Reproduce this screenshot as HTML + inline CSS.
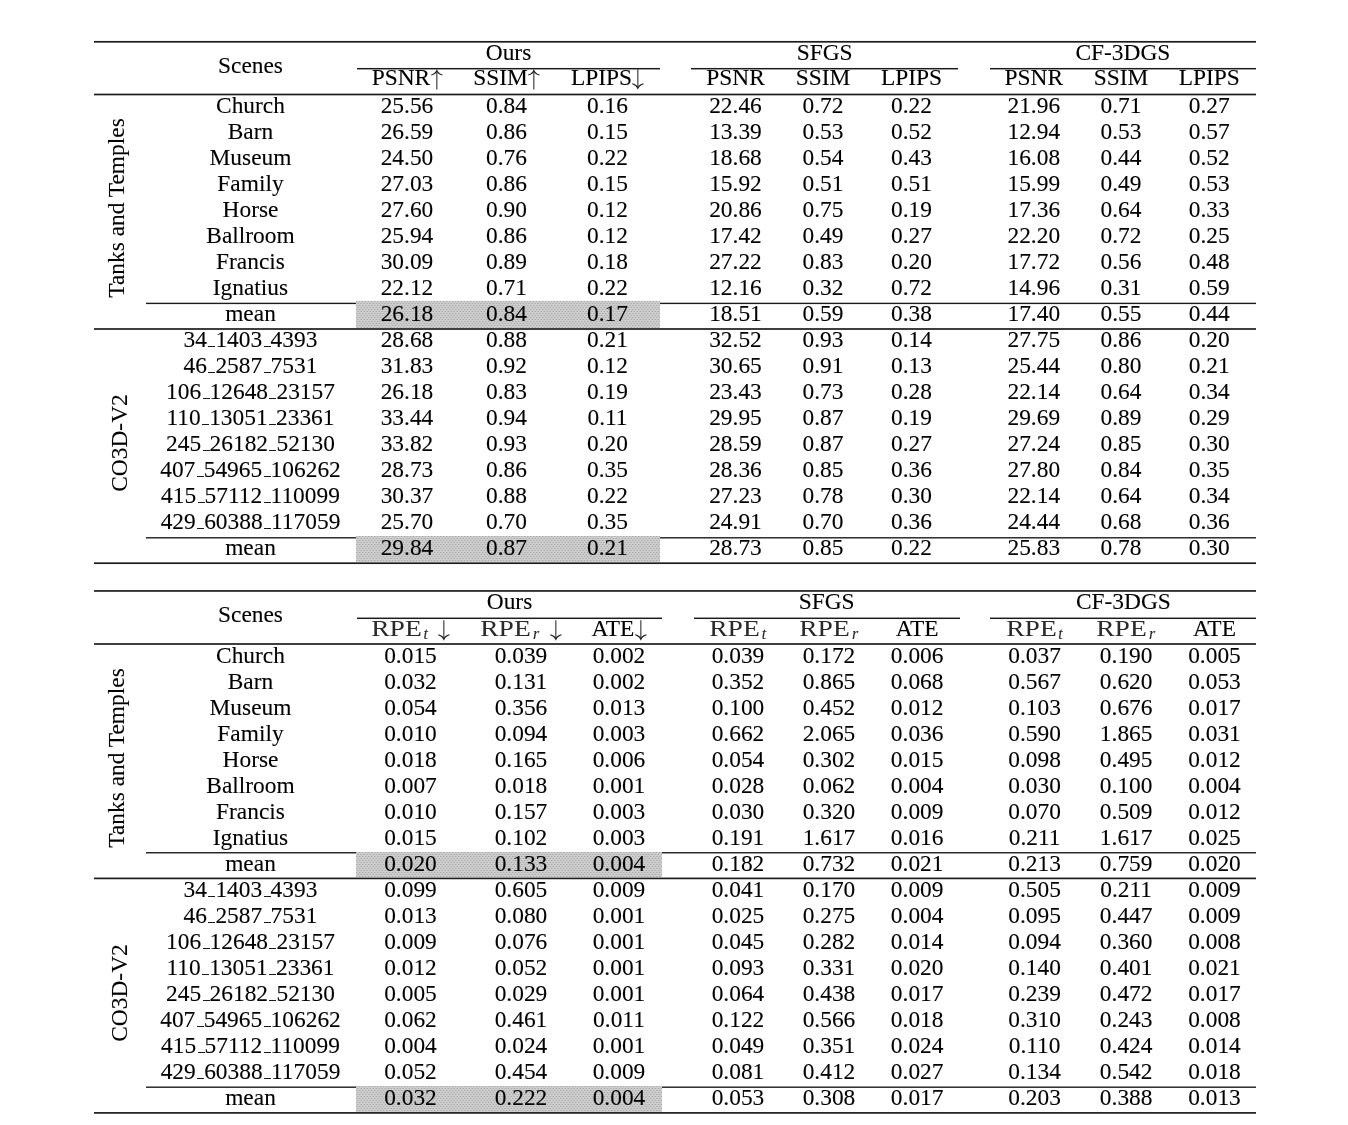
<!DOCTYPE html>
<html><head><meta charset="utf-8"><title>tables</title><style>
html,body{margin:0;padding:0;background:#fff;}
body{filter:grayscale(1) blur(0.45px);}
body{width:1348px;height:1125px;position:relative;overflow:hidden;font-family:"Liberation Serif",serif;color:#000;-webkit-text-stroke:0.1px #000;}
.t{position:absolute;text-align:center;white-space:nowrap;font-size:23.4px;line-height:26px;height:26px;}
.l{position:absolute;}
.g{background-color:#cdcdcd;background-image:radial-gradient(circle at 0.75px 0.5px,rgba(0,0,0,0.16) 0.45px,rgba(0,0,0,0) 0.95px),radial-gradient(circle at 2.25px 2.5px,rgba(0,0,0,0.16) 0.45px,rgba(0,0,0,0) 0.95px);background-size:3px 4px;}
.us{display:inline-block;width:0.3em;margin-left:0.06em;height:0;border-bottom:1.6px solid #1a1a1a;vertical-align:baseline;}
.arw{display:inline-block;width:0.5em;height:0.888em;vertical-align:-0.215em;margin-left:0.02em;overflow:visible;}
.arw .sh{fill:none;stroke:#2a2a2a;stroke-width:46;stroke-linecap:butt;}
.arw .hd{fill:#222;stroke:none;}
.rpe{display:inline-block;width:2.18em;height:1em;vertical-align:-0.22em;overflow:visible;}
.rpe text{font-family:"Liberation Serif",serif;fill:#2a2a2a;}
.st{display:inline-block;width:0;height:21px;vertical-align:baseline;}
.sp{display:inline-block;width:0.41em;}
.sub{font-style:italic;font-size:0.68em;line-height:0;position:relative;top:0.16em;color:#2a2a2a;margin-left:0.1em;margin-right:0.04em;}
.rot{position:absolute;white-space:nowrap;font-size:23.4px;line-height:26px;height:26px;width:400px;text-align:center;margin-left:-200px;margin-top:-13.0px;transform:rotate(-90deg);transform-origin:50% 50%;}
</style></head><body>
<div class="l" style="left:146px;top:302px;width:1110px;height:1px;background:rgb(187,187,187)"></div>
<div class="l" style="left:146px;top:303px;width:1110px;height:1px;background:rgb(28,28,28)"></div>
<div class="l" style="left:146px;top:304px;width:1110px;height:1px;background:rgb(232,232,232)"></div>
<div class="l" style="left:146px;top:537px;width:1110px;height:1px;background:rgb(51,51,51)"></div>
<div class="l" style="left:146px;top:538px;width:1110px;height:1px;background:rgb(142,142,142)"></div>
<div class="l g" style="left:356.30px;top:301.30px;width:303.70px;height:27.10px"></div>
<div class="l g" style="left:356.30px;top:535.80px;width:303.70px;height:26.80px"></div>
<div class="l" style="left:94px;top:40px;width:1162px;height:1px;background:rgb(244,244,244)"></div>
<div class="l" style="left:94px;top:41px;width:1162px;height:1px;background:rgb(28,28,28)"></div>
<div class="l" style="left:94px;top:42px;width:1162px;height:1px;background:rgb(107,107,107)"></div>
<div class="l" style="left:94px;top:93px;width:1162px;height:1px;background:rgb(176,176,176)"></div>
<div class="l" style="left:94px;top:94px;width:1162px;height:1px;background:rgb(28,28,28)"></div>
<div class="l" style="left:94px;top:95px;width:1162px;height:1px;background:rgb(176,176,176)"></div>
<div class="l" style="left:94px;top:328px;width:1162px;height:1px;background:rgb(62,62,62)"></div>
<div class="l" style="left:94px;top:329px;width:1162px;height:1px;background:rgb(62,62,62)"></div>
<div class="l" style="left:94px;top:562px;width:1162px;height:1px;background:rgb(107,107,107)"></div>
<div class="l" style="left:94px;top:563px;width:1162px;height:1px;background:rgb(28,28,28)"></div>
<div class="l" style="left:94px;top:564px;width:1162px;height:1px;background:rgb(244,244,244)"></div>
<div class="l" style="left:357px;top:67px;width:303px;height:1px;background:rgb(244,244,244)"></div>
<div class="l" style="left:357px;top:68px;width:303px;height:1px;background:rgb(28,28,28)"></div>
<div class="l" style="left:357px;top:69px;width:303px;height:1px;background:rgb(153,153,153)"></div>
<div class="t " style="left:388.50px;top:39.00px;width:240px;">Ours</div>
<div class="l" style="left:691px;top:67px;width:267px;height:1px;background:rgb(244,244,244)"></div>
<div class="l" style="left:691px;top:68px;width:267px;height:1px;background:rgb(28,28,28)"></div>
<div class="l" style="left:691px;top:69px;width:267px;height:1px;background:rgb(153,153,153)"></div>
<div class="t " style="left:704.62px;top:39.00px;width:240px;">SFGS</div>
<div class="l" style="left:990px;top:67px;width:266px;height:1px;background:rgb(244,244,244)"></div>
<div class="l" style="left:990px;top:68px;width:266px;height:1px;background:rgb(28,28,28)"></div>
<div class="l" style="left:990px;top:69px;width:266px;height:1px;background:rgb(153,153,153)"></div>
<div class="t " style="left:1002.88px;top:39.00px;width:240px;">CF-3DGS</div>
<div class="t " style="left:130.50px;top:52.00px;width:240px;">Scenes</div>
<div class="t " style="left:287.00px;top:64.00px;width:240px;">PSNR<svg class="arw" viewBox="0 0 500 888"><path class="sh" d="M250 880V60" /><path class="hd" d="M250 0C232 95 135 205 8 240L8 275C105 250 205 195 250 125C295 195 395 250 492 275L492 240C365 205 268 95 250 0Z" /></svg></div>
<div class="t " style="left:386.50px;top:64.00px;width:240px;">SSIM<svg class="arw" viewBox="0 0 500 888"><path class="sh" d="M250 880V60" /><path class="hd" d="M250 0C232 95 135 205 8 240L8 275C105 250 205 195 250 125C295 195 395 250 492 275L492 240C365 205 268 95 250 0Z" /></svg></div>
<div class="t " style="left:487.50px;top:64.00px;width:240px;">LPIPS<svg class="arw" viewBox="0 0 500 888"><path class="sh" d="M250 8V828" /><path class="hd" d="M250 888C232 793 135 683 8 648L8 613C105 638 205 693 250 763C295 693 395 638 492 613L492 648C365 683 268 793 250 888Z" /></svg></div>
<div class="t " style="left:615.50px;top:64.00px;width:240px;">PSNR</div>
<div class="t " style="left:703.00px;top:64.00px;width:240px;">SSIM</div>
<div class="t " style="left:791.50px;top:64.00px;width:240px;">LPIPS</div>
<div class="t " style="left:913.80px;top:64.00px;width:240px;">PSNR</div>
<div class="t " style="left:1001.00px;top:64.00px;width:240px;">SSIM</div>
<div class="t " style="left:1089.30px;top:64.00px;width:240px;">LPIPS</div>
<div class="t " style="left:130.50px;top:92.00px;width:240px;">Church</div>
<div class="t " style="left:287.00px;top:92.00px;width:240px;">25.56</div>
<div class="t " style="left:386.50px;top:92.00px;width:240px;">0.84</div>
<div class="t " style="left:487.50px;top:92.00px;width:240px;">0.16</div>
<div class="t " style="left:615.50px;top:92.00px;width:240px;">22.46</div>
<div class="t " style="left:703.00px;top:92.00px;width:240px;">0.72</div>
<div class="t " style="left:791.50px;top:92.00px;width:240px;">0.22</div>
<div class="t " style="left:913.80px;top:92.00px;width:240px;">21.96</div>
<div class="t " style="left:1001.00px;top:92.00px;width:240px;">0.71</div>
<div class="t " style="left:1089.30px;top:92.00px;width:240px;">0.27</div>
<div class="t " style="left:130.50px;top:118.00px;width:240px;">Barn</div>
<div class="t " style="left:287.00px;top:118.00px;width:240px;">26.59</div>
<div class="t " style="left:386.50px;top:118.00px;width:240px;">0.86</div>
<div class="t " style="left:487.50px;top:118.00px;width:240px;">0.15</div>
<div class="t " style="left:615.50px;top:118.00px;width:240px;">13.39</div>
<div class="t " style="left:703.00px;top:118.00px;width:240px;">0.53</div>
<div class="t " style="left:791.50px;top:118.00px;width:240px;">0.52</div>
<div class="t " style="left:913.80px;top:118.00px;width:240px;">12.94</div>
<div class="t " style="left:1001.00px;top:118.00px;width:240px;">0.53</div>
<div class="t " style="left:1089.30px;top:118.00px;width:240px;">0.57</div>
<div class="t " style="left:130.50px;top:144.00px;width:240px;">Museum</div>
<div class="t " style="left:287.00px;top:144.00px;width:240px;">24.50</div>
<div class="t " style="left:386.50px;top:144.00px;width:240px;">0.76</div>
<div class="t " style="left:487.50px;top:144.00px;width:240px;">0.22</div>
<div class="t " style="left:615.50px;top:144.00px;width:240px;">18.68</div>
<div class="t " style="left:703.00px;top:144.00px;width:240px;">0.54</div>
<div class="t " style="left:791.50px;top:144.00px;width:240px;">0.43</div>
<div class="t " style="left:913.80px;top:144.00px;width:240px;">16.08</div>
<div class="t " style="left:1001.00px;top:144.00px;width:240px;">0.44</div>
<div class="t " style="left:1089.30px;top:144.00px;width:240px;">0.52</div>
<div class="t " style="left:130.50px;top:170.00px;width:240px;">Family</div>
<div class="t " style="left:287.00px;top:170.00px;width:240px;">27.03</div>
<div class="t " style="left:386.50px;top:170.00px;width:240px;">0.86</div>
<div class="t " style="left:487.50px;top:170.00px;width:240px;">0.15</div>
<div class="t " style="left:615.50px;top:170.00px;width:240px;">15.92</div>
<div class="t " style="left:703.00px;top:170.00px;width:240px;">0.51</div>
<div class="t " style="left:791.50px;top:170.00px;width:240px;">0.51</div>
<div class="t " style="left:913.80px;top:170.00px;width:240px;">15.99</div>
<div class="t " style="left:1001.00px;top:170.00px;width:240px;">0.49</div>
<div class="t " style="left:1089.30px;top:170.00px;width:240px;">0.53</div>
<div class="t " style="left:130.50px;top:196.00px;width:240px;">Horse</div>
<div class="t " style="left:287.00px;top:196.00px;width:240px;">27.60</div>
<div class="t " style="left:386.50px;top:196.00px;width:240px;">0.90</div>
<div class="t " style="left:487.50px;top:196.00px;width:240px;">0.12</div>
<div class="t " style="left:615.50px;top:196.00px;width:240px;">20.86</div>
<div class="t " style="left:703.00px;top:196.00px;width:240px;">0.75</div>
<div class="t " style="left:791.50px;top:196.00px;width:240px;">0.19</div>
<div class="t " style="left:913.80px;top:196.00px;width:240px;">17.36</div>
<div class="t " style="left:1001.00px;top:196.00px;width:240px;">0.64</div>
<div class="t " style="left:1089.30px;top:196.00px;width:240px;">0.33</div>
<div class="t " style="left:130.50px;top:222.00px;width:240px;">Ballroom</div>
<div class="t " style="left:287.00px;top:222.00px;width:240px;">25.94</div>
<div class="t " style="left:386.50px;top:222.00px;width:240px;">0.86</div>
<div class="t " style="left:487.50px;top:222.00px;width:240px;">0.12</div>
<div class="t " style="left:615.50px;top:222.00px;width:240px;">17.42</div>
<div class="t " style="left:703.00px;top:222.00px;width:240px;">0.49</div>
<div class="t " style="left:791.50px;top:222.00px;width:240px;">0.27</div>
<div class="t " style="left:913.80px;top:222.00px;width:240px;">22.20</div>
<div class="t " style="left:1001.00px;top:222.00px;width:240px;">0.72</div>
<div class="t " style="left:1089.30px;top:222.00px;width:240px;">0.25</div>
<div class="t " style="left:130.50px;top:248.00px;width:240px;">Francis</div>
<div class="t " style="left:287.00px;top:248.00px;width:240px;">30.09</div>
<div class="t " style="left:386.50px;top:248.00px;width:240px;">0.89</div>
<div class="t " style="left:487.50px;top:248.00px;width:240px;">0.18</div>
<div class="t " style="left:615.50px;top:248.00px;width:240px;">27.22</div>
<div class="t " style="left:703.00px;top:248.00px;width:240px;">0.83</div>
<div class="t " style="left:791.50px;top:248.00px;width:240px;">0.20</div>
<div class="t " style="left:913.80px;top:248.00px;width:240px;">17.72</div>
<div class="t " style="left:1001.00px;top:248.00px;width:240px;">0.56</div>
<div class="t " style="left:1089.30px;top:248.00px;width:240px;">0.48</div>
<div class="t " style="left:130.50px;top:274.00px;width:240px;">Ignatius</div>
<div class="t " style="left:287.00px;top:274.00px;width:240px;">22.12</div>
<div class="t " style="left:386.50px;top:274.00px;width:240px;">0.71</div>
<div class="t " style="left:487.50px;top:274.00px;width:240px;">0.22</div>
<div class="t " style="left:615.50px;top:274.00px;width:240px;">12.16</div>
<div class="t " style="left:703.00px;top:274.00px;width:240px;">0.32</div>
<div class="t " style="left:791.50px;top:274.00px;width:240px;">0.72</div>
<div class="t " style="left:913.80px;top:274.00px;width:240px;">14.96</div>
<div class="t " style="left:1001.00px;top:274.00px;width:240px;">0.31</div>
<div class="t " style="left:1089.30px;top:274.00px;width:240px;">0.59</div>
<div class="t " style="left:130.50px;top:300.00px;width:240px;">mean</div>
<div class="t " style="left:287.00px;top:300.00px;width:240px;">26.18</div>
<div class="t " style="left:386.50px;top:300.00px;width:240px;">0.84</div>
<div class="t " style="left:487.50px;top:300.00px;width:240px;">0.17</div>
<div class="t " style="left:615.50px;top:300.00px;width:240px;">18.51</div>
<div class="t " style="left:703.00px;top:300.00px;width:240px;">0.59</div>
<div class="t " style="left:791.50px;top:300.00px;width:240px;">0.38</div>
<div class="t " style="left:913.80px;top:300.00px;width:240px;">17.40</div>
<div class="t " style="left:1001.00px;top:300.00px;width:240px;">0.55</div>
<div class="t " style="left:1089.30px;top:300.00px;width:240px;">0.44</div>
<div class="t " style="left:130.50px;top:326.00px;width:240px;">34<span class="us"></span>1403<span class="us"></span>4393</div>
<div class="t " style="left:287.00px;top:326.00px;width:240px;">28.68</div>
<div class="t " style="left:386.50px;top:326.00px;width:240px;">0.88</div>
<div class="t " style="left:487.50px;top:326.00px;width:240px;">0.21</div>
<div class="t " style="left:615.50px;top:326.00px;width:240px;">32.52</div>
<div class="t " style="left:703.00px;top:326.00px;width:240px;">0.93</div>
<div class="t " style="left:791.50px;top:326.00px;width:240px;">0.14</div>
<div class="t " style="left:913.80px;top:326.00px;width:240px;">27.75</div>
<div class="t " style="left:1001.00px;top:326.00px;width:240px;">0.86</div>
<div class="t " style="left:1089.30px;top:326.00px;width:240px;">0.20</div>
<div class="t " style="left:130.50px;top:352.00px;width:240px;">46<span class="us"></span>2587<span class="us"></span>7531</div>
<div class="t " style="left:287.00px;top:352.00px;width:240px;">31.83</div>
<div class="t " style="left:386.50px;top:352.00px;width:240px;">0.92</div>
<div class="t " style="left:487.50px;top:352.00px;width:240px;">0.12</div>
<div class="t " style="left:615.50px;top:352.00px;width:240px;">30.65</div>
<div class="t " style="left:703.00px;top:352.00px;width:240px;">0.91</div>
<div class="t " style="left:791.50px;top:352.00px;width:240px;">0.13</div>
<div class="t " style="left:913.80px;top:352.00px;width:240px;">25.44</div>
<div class="t " style="left:1001.00px;top:352.00px;width:240px;">0.80</div>
<div class="t " style="left:1089.30px;top:352.00px;width:240px;">0.21</div>
<div class="t " style="left:130.50px;top:378.00px;width:240px;">106<span class="us"></span>12648<span class="us"></span>23157</div>
<div class="t " style="left:287.00px;top:378.00px;width:240px;">26.18</div>
<div class="t " style="left:386.50px;top:378.00px;width:240px;">0.83</div>
<div class="t " style="left:487.50px;top:378.00px;width:240px;">0.19</div>
<div class="t " style="left:615.50px;top:378.00px;width:240px;">23.43</div>
<div class="t " style="left:703.00px;top:378.00px;width:240px;">0.73</div>
<div class="t " style="left:791.50px;top:378.00px;width:240px;">0.28</div>
<div class="t " style="left:913.80px;top:378.00px;width:240px;">22.14</div>
<div class="t " style="left:1001.00px;top:378.00px;width:240px;">0.64</div>
<div class="t " style="left:1089.30px;top:378.00px;width:240px;">0.34</div>
<div class="t " style="left:130.50px;top:404.00px;width:240px;">110<span class="us"></span>13051<span class="us"></span>23361</div>
<div class="t " style="left:287.00px;top:404.00px;width:240px;">33.44</div>
<div class="t " style="left:386.50px;top:404.00px;width:240px;">0.94</div>
<div class="t " style="left:487.50px;top:404.00px;width:240px;">0.11</div>
<div class="t " style="left:615.50px;top:404.00px;width:240px;">29.95</div>
<div class="t " style="left:703.00px;top:404.00px;width:240px;">0.87</div>
<div class="t " style="left:791.50px;top:404.00px;width:240px;">0.19</div>
<div class="t " style="left:913.80px;top:404.00px;width:240px;">29.69</div>
<div class="t " style="left:1001.00px;top:404.00px;width:240px;">0.89</div>
<div class="t " style="left:1089.30px;top:404.00px;width:240px;">0.29</div>
<div class="t " style="left:130.50px;top:430.00px;width:240px;">245<span class="us"></span>26182<span class="us"></span>52130</div>
<div class="t " style="left:287.00px;top:430.00px;width:240px;">33.82</div>
<div class="t " style="left:386.50px;top:430.00px;width:240px;">0.93</div>
<div class="t " style="left:487.50px;top:430.00px;width:240px;">0.20</div>
<div class="t " style="left:615.50px;top:430.00px;width:240px;">28.59</div>
<div class="t " style="left:703.00px;top:430.00px;width:240px;">0.87</div>
<div class="t " style="left:791.50px;top:430.00px;width:240px;">0.27</div>
<div class="t " style="left:913.80px;top:430.00px;width:240px;">27.24</div>
<div class="t " style="left:1001.00px;top:430.00px;width:240px;">0.85</div>
<div class="t " style="left:1089.30px;top:430.00px;width:240px;">0.30</div>
<div class="t " style="left:130.50px;top:456.00px;width:240px;">407<span class="us"></span>54965<span class="us"></span>106262</div>
<div class="t " style="left:287.00px;top:456.00px;width:240px;">28.73</div>
<div class="t " style="left:386.50px;top:456.00px;width:240px;">0.86</div>
<div class="t " style="left:487.50px;top:456.00px;width:240px;">0.35</div>
<div class="t " style="left:615.50px;top:456.00px;width:240px;">28.36</div>
<div class="t " style="left:703.00px;top:456.00px;width:240px;">0.85</div>
<div class="t " style="left:791.50px;top:456.00px;width:240px;">0.36</div>
<div class="t " style="left:913.80px;top:456.00px;width:240px;">27.80</div>
<div class="t " style="left:1001.00px;top:456.00px;width:240px;">0.84</div>
<div class="t " style="left:1089.30px;top:456.00px;width:240px;">0.35</div>
<div class="t " style="left:130.50px;top:482.00px;width:240px;">415<span class="us"></span>57112<span class="us"></span>110099</div>
<div class="t " style="left:287.00px;top:482.00px;width:240px;">30.37</div>
<div class="t " style="left:386.50px;top:482.00px;width:240px;">0.88</div>
<div class="t " style="left:487.50px;top:482.00px;width:240px;">0.22</div>
<div class="t " style="left:615.50px;top:482.00px;width:240px;">27.23</div>
<div class="t " style="left:703.00px;top:482.00px;width:240px;">0.78</div>
<div class="t " style="left:791.50px;top:482.00px;width:240px;">0.30</div>
<div class="t " style="left:913.80px;top:482.00px;width:240px;">22.14</div>
<div class="t " style="left:1001.00px;top:482.00px;width:240px;">0.64</div>
<div class="t " style="left:1089.30px;top:482.00px;width:240px;">0.34</div>
<div class="t " style="left:130.50px;top:508.00px;width:240px;">429<span class="us"></span>60388<span class="us"></span>117059</div>
<div class="t " style="left:287.00px;top:508.00px;width:240px;">25.70</div>
<div class="t " style="left:386.50px;top:508.00px;width:240px;">0.70</div>
<div class="t " style="left:487.50px;top:508.00px;width:240px;">0.35</div>
<div class="t " style="left:615.50px;top:508.00px;width:240px;">24.91</div>
<div class="t " style="left:703.00px;top:508.00px;width:240px;">0.70</div>
<div class="t " style="left:791.50px;top:508.00px;width:240px;">0.36</div>
<div class="t " style="left:913.80px;top:508.00px;width:240px;">24.44</div>
<div class="t " style="left:1001.00px;top:508.00px;width:240px;">0.68</div>
<div class="t " style="left:1089.30px;top:508.00px;width:240px;">0.36</div>
<div class="t " style="left:130.50px;top:534.00px;width:240px;">mean</div>
<div class="t " style="left:287.00px;top:534.00px;width:240px;">29.84</div>
<div class="t " style="left:386.50px;top:534.00px;width:240px;">0.87</div>
<div class="t " style="left:487.50px;top:534.00px;width:240px;">0.21</div>
<div class="t " style="left:615.50px;top:534.00px;width:240px;">28.73</div>
<div class="t " style="left:703.00px;top:534.00px;width:240px;">0.85</div>
<div class="t " style="left:791.50px;top:534.00px;width:240px;">0.22</div>
<div class="t " style="left:913.80px;top:534.00px;width:240px;">25.83</div>
<div class="t " style="left:1001.00px;top:534.00px;width:240px;">0.78</div>
<div class="t " style="left:1089.30px;top:534.00px;width:240px;">0.30</div>
<div class="rot" style="left:116.00px;top:208.00px">Tanks and Temples</div>
<div class="rot" style="left:119.00px;top:443.40px">CO3D-V2</div>
<div class="l" style="left:146px;top:852px;width:1110px;height:1px;background:rgb(39,39,39)"></div>
<div class="l" style="left:146px;top:853px;width:1110px;height:1px;background:rgb(153,153,153)"></div>
<div class="l" style="left:146px;top:1086px;width:1110px;height:1px;background:rgb(142,142,142)"></div>
<div class="l" style="left:146px;top:1087px;width:1110px;height:1px;background:rgb(51,51,51)"></div>
<div class="l g" style="left:356.30px;top:851.70px;width:305.70px;height:26.10px"></div>
<div class="l g" style="left:356.30px;top:1086.00px;width:305.70px;height:26.30px"></div>
<div class="l" style="left:94px;top:590px;width:1162px;height:1px;background:rgb(51,51,51)"></div>
<div class="l" style="left:94px;top:591px;width:1162px;height:1px;background:rgb(73,73,73)"></div>
<div class="l" style="left:94px;top:643px;width:1162px;height:1px;background:rgb(62,62,62)"></div>
<div class="l" style="left:94px;top:644px;width:1162px;height:1px;background:rgb(62,62,62)"></div>
<div class="l" style="left:94px;top:877px;width:1162px;height:1px;background:rgb(153,153,153)"></div>
<div class="l" style="left:94px;top:878px;width:1162px;height:1px;background:rgb(28,28,28)"></div>
<div class="l" style="left:94px;top:879px;width:1162px;height:1px;background:rgb(198,198,198)"></div>
<div class="l" style="left:94px;top:1112px;width:1162px;height:1px;background:rgb(39,39,39)"></div>
<div class="l" style="left:94px;top:1113px;width:1162px;height:1px;background:rgb(85,85,85)"></div>
<div class="l" style="left:357px;top:617px;width:305px;height:1px;background:rgb(153,153,153)"></div>
<div class="l" style="left:357px;top:618px;width:305px;height:1px;background:rgb(28,28,28)"></div>
<div class="l" style="left:357px;top:619px;width:305px;height:1px;background:rgb(244,244,244)"></div>
<div class="t " style="left:389.50px;top:588.00px;width:240px;">Ours</div>
<div class="l" style="left:694px;top:617px;width:266px;height:1px;background:rgb(153,153,153)"></div>
<div class="l" style="left:694px;top:618px;width:266px;height:1px;background:rgb(28,28,28)"></div>
<div class="l" style="left:694px;top:619px;width:266px;height:1px;background:rgb(244,244,244)"></div>
<div class="t " style="left:706.62px;top:588.00px;width:240px;">SFGS</div>
<div class="l" style="left:990px;top:617px;width:266px;height:1px;background:rgb(153,153,153)"></div>
<div class="l" style="left:990px;top:618px;width:266px;height:1px;background:rgb(28,28,28)"></div>
<div class="l" style="left:990px;top:619px;width:266px;height:1px;background:rgb(244,244,244)"></div>
<div class="t " style="left:1003.38px;top:588.00px;width:240px;">CF-3DGS</div>
<div class="t " style="left:130.50px;top:601.00px;width:240px;">Scenes</div>
<div class="t " style="left:290.50px;top:615.00px;width:240px;"><i class="st"></i><svg class="rpe" viewBox="0 0 2180 1000"><text x="10" y="780" font-size="1000" textLength="2160" lengthAdjust="spacingAndGlyphs">RPE</text></svg><span class="sub">t</span><span class="sp"></span><svg class="arw" viewBox="0 0 500 888"><path class="sh" d="M250 8V828" /><path class="hd" d="M250 888C232 793 135 683 8 648L8 613C105 638 205 693 250 763C295 693 395 638 492 613L492 648C365 683 268 793 250 888Z" /></svg></div>
<div class="t " style="left:401.00px;top:615.00px;width:240px;"><i class="st"></i><svg class="rpe" viewBox="0 0 2180 1000"><text x="10" y="780" font-size="1000" textLength="2160" lengthAdjust="spacingAndGlyphs">RPE</text></svg><span class="sub">r</span><span class="sp"></span><svg class="arw" viewBox="0 0 500 888"><path class="sh" d="M250 8V828" /><path class="hd" d="M250 888C232 793 135 683 8 648L8 613C105 638 205 693 250 763C295 693 395 638 492 613L492 648C365 683 268 793 250 888Z" /></svg></div>
<div class="t " style="left:499.00px;top:615.00px;width:240px;">ATE<svg class="arw" viewBox="0 0 500 888"><path class="sh" d="M250 8V828" /><path class="hd" d="M250 888C232 793 135 683 8 648L8 613C105 638 205 693 250 763C295 693 395 638 492 613L492 648C365 683 268 793 250 888Z" /></svg></div>
<div class="t " style="left:618.00px;top:615.00px;width:240px;"><i class="st"></i><svg class="rpe" viewBox="0 0 2180 1000"><text x="10" y="780" font-size="1000" textLength="2160" lengthAdjust="spacingAndGlyphs">RPE</text></svg><span class="sub">t</span></div>
<div class="t " style="left:709.00px;top:615.00px;width:240px;"><i class="st"></i><svg class="rpe" viewBox="0 0 2180 1000"><text x="10" y="780" font-size="1000" textLength="2160" lengthAdjust="spacingAndGlyphs">RPE</text></svg><span class="sub">r</span></div>
<div class="t " style="left:797.20px;top:615.00px;width:240px;">ATE</div>
<div class="t " style="left:914.60px;top:615.00px;width:240px;"><i class="st"></i><svg class="rpe" viewBox="0 0 2180 1000"><text x="10" y="780" font-size="1000" textLength="2160" lengthAdjust="spacingAndGlyphs">RPE</text></svg><span class="sub">t</span></div>
<div class="t " style="left:1006.20px;top:615.00px;width:240px;"><i class="st"></i><svg class="rpe" viewBox="0 0 2180 1000"><text x="10" y="780" font-size="1000" textLength="2160" lengthAdjust="spacingAndGlyphs">RPE</text></svg><span class="sub">r</span></div>
<div class="t " style="left:1094.50px;top:615.00px;width:240px;">ATE</div>
<div class="t " style="left:130.50px;top:642.00px;width:240px;">Church</div>
<div class="t " style="left:290.50px;top:642.00px;width:240px;">0.015</div>
<div class="t " style="left:401.00px;top:642.00px;width:240px;">0.039</div>
<div class="t " style="left:499.00px;top:642.00px;width:240px;">0.002</div>
<div class="t " style="left:618.00px;top:642.00px;width:240px;">0.039</div>
<div class="t " style="left:709.00px;top:642.00px;width:240px;">0.172</div>
<div class="t " style="left:797.20px;top:642.00px;width:240px;">0.006</div>
<div class="t " style="left:914.60px;top:642.00px;width:240px;">0.037</div>
<div class="t " style="left:1006.20px;top:642.00px;width:240px;">0.190</div>
<div class="t " style="left:1094.50px;top:642.00px;width:240px;">0.005</div>
<div class="t " style="left:130.50px;top:668.00px;width:240px;">Barn</div>
<div class="t " style="left:290.50px;top:668.00px;width:240px;">0.032</div>
<div class="t " style="left:401.00px;top:668.00px;width:240px;">0.131</div>
<div class="t " style="left:499.00px;top:668.00px;width:240px;">0.002</div>
<div class="t " style="left:618.00px;top:668.00px;width:240px;">0.352</div>
<div class="t " style="left:709.00px;top:668.00px;width:240px;">0.865</div>
<div class="t " style="left:797.20px;top:668.00px;width:240px;">0.068</div>
<div class="t " style="left:914.60px;top:668.00px;width:240px;">0.567</div>
<div class="t " style="left:1006.20px;top:668.00px;width:240px;">0.620</div>
<div class="t " style="left:1094.50px;top:668.00px;width:240px;">0.053</div>
<div class="t " style="left:130.50px;top:694.00px;width:240px;">Museum</div>
<div class="t " style="left:290.50px;top:694.00px;width:240px;">0.054</div>
<div class="t " style="left:401.00px;top:694.00px;width:240px;">0.356</div>
<div class="t " style="left:499.00px;top:694.00px;width:240px;">0.013</div>
<div class="t " style="left:618.00px;top:694.00px;width:240px;">0.100</div>
<div class="t " style="left:709.00px;top:694.00px;width:240px;">0.452</div>
<div class="t " style="left:797.20px;top:694.00px;width:240px;">0.012</div>
<div class="t " style="left:914.60px;top:694.00px;width:240px;">0.103</div>
<div class="t " style="left:1006.20px;top:694.00px;width:240px;">0.676</div>
<div class="t " style="left:1094.50px;top:694.00px;width:240px;">0.017</div>
<div class="t " style="left:130.50px;top:720.00px;width:240px;">Family</div>
<div class="t " style="left:290.50px;top:720.00px;width:240px;">0.010</div>
<div class="t " style="left:401.00px;top:720.00px;width:240px;">0.094</div>
<div class="t " style="left:499.00px;top:720.00px;width:240px;">0.003</div>
<div class="t " style="left:618.00px;top:720.00px;width:240px;">0.662</div>
<div class="t " style="left:709.00px;top:720.00px;width:240px;">2.065</div>
<div class="t " style="left:797.20px;top:720.00px;width:240px;">0.036</div>
<div class="t " style="left:914.60px;top:720.00px;width:240px;">0.590</div>
<div class="t " style="left:1006.20px;top:720.00px;width:240px;">1.865</div>
<div class="t " style="left:1094.50px;top:720.00px;width:240px;">0.031</div>
<div class="t " style="left:130.50px;top:746.00px;width:240px;">Horse</div>
<div class="t " style="left:290.50px;top:746.00px;width:240px;">0.018</div>
<div class="t " style="left:401.00px;top:746.00px;width:240px;">0.165</div>
<div class="t " style="left:499.00px;top:746.00px;width:240px;">0.006</div>
<div class="t " style="left:618.00px;top:746.00px;width:240px;">0.054</div>
<div class="t " style="left:709.00px;top:746.00px;width:240px;">0.302</div>
<div class="t " style="left:797.20px;top:746.00px;width:240px;">0.015</div>
<div class="t " style="left:914.60px;top:746.00px;width:240px;">0.098</div>
<div class="t " style="left:1006.20px;top:746.00px;width:240px;">0.495</div>
<div class="t " style="left:1094.50px;top:746.00px;width:240px;">0.012</div>
<div class="t " style="left:130.50px;top:772.00px;width:240px;">Ballroom</div>
<div class="t " style="left:290.50px;top:772.00px;width:240px;">0.007</div>
<div class="t " style="left:401.00px;top:772.00px;width:240px;">0.018</div>
<div class="t " style="left:499.00px;top:772.00px;width:240px;">0.001</div>
<div class="t " style="left:618.00px;top:772.00px;width:240px;">0.028</div>
<div class="t " style="left:709.00px;top:772.00px;width:240px;">0.062</div>
<div class="t " style="left:797.20px;top:772.00px;width:240px;">0.004</div>
<div class="t " style="left:914.60px;top:772.00px;width:240px;">0.030</div>
<div class="t " style="left:1006.20px;top:772.00px;width:240px;">0.100</div>
<div class="t " style="left:1094.50px;top:772.00px;width:240px;">0.004</div>
<div class="t " style="left:130.50px;top:798.00px;width:240px;">Francis</div>
<div class="t " style="left:290.50px;top:798.00px;width:240px;">0.010</div>
<div class="t " style="left:401.00px;top:798.00px;width:240px;">0.157</div>
<div class="t " style="left:499.00px;top:798.00px;width:240px;">0.003</div>
<div class="t " style="left:618.00px;top:798.00px;width:240px;">0.030</div>
<div class="t " style="left:709.00px;top:798.00px;width:240px;">0.320</div>
<div class="t " style="left:797.20px;top:798.00px;width:240px;">0.009</div>
<div class="t " style="left:914.60px;top:798.00px;width:240px;">0.070</div>
<div class="t " style="left:1006.20px;top:798.00px;width:240px;">0.509</div>
<div class="t " style="left:1094.50px;top:798.00px;width:240px;">0.012</div>
<div class="t " style="left:130.50px;top:824.00px;width:240px;">Ignatius</div>
<div class="t " style="left:290.50px;top:824.00px;width:240px;">0.015</div>
<div class="t " style="left:401.00px;top:824.00px;width:240px;">0.102</div>
<div class="t " style="left:499.00px;top:824.00px;width:240px;">0.003</div>
<div class="t " style="left:618.00px;top:824.00px;width:240px;">0.191</div>
<div class="t " style="left:709.00px;top:824.00px;width:240px;">1.617</div>
<div class="t " style="left:797.20px;top:824.00px;width:240px;">0.016</div>
<div class="t " style="left:914.60px;top:824.00px;width:240px;">0.211</div>
<div class="t " style="left:1006.20px;top:824.00px;width:240px;">1.617</div>
<div class="t " style="left:1094.50px;top:824.00px;width:240px;">0.025</div>
<div class="t " style="left:130.50px;top:850.00px;width:240px;">mean</div>
<div class="t " style="left:290.50px;top:850.00px;width:240px;">0.020</div>
<div class="t " style="left:401.00px;top:850.00px;width:240px;">0.133</div>
<div class="t " style="left:499.00px;top:850.00px;width:240px;">0.004</div>
<div class="t " style="left:618.00px;top:850.00px;width:240px;">0.182</div>
<div class="t " style="left:709.00px;top:850.00px;width:240px;">0.732</div>
<div class="t " style="left:797.20px;top:850.00px;width:240px;">0.021</div>
<div class="t " style="left:914.60px;top:850.00px;width:240px;">0.213</div>
<div class="t " style="left:1006.20px;top:850.00px;width:240px;">0.759</div>
<div class="t " style="left:1094.50px;top:850.00px;width:240px;">0.020</div>
<div class="t " style="left:130.50px;top:876.00px;width:240px;">34<span class="us"></span>1403<span class="us"></span>4393</div>
<div class="t " style="left:290.50px;top:876.00px;width:240px;">0.099</div>
<div class="t " style="left:401.00px;top:876.00px;width:240px;">0.605</div>
<div class="t " style="left:499.00px;top:876.00px;width:240px;">0.009</div>
<div class="t " style="left:618.00px;top:876.00px;width:240px;">0.041</div>
<div class="t " style="left:709.00px;top:876.00px;width:240px;">0.170</div>
<div class="t " style="left:797.20px;top:876.00px;width:240px;">0.009</div>
<div class="t " style="left:914.60px;top:876.00px;width:240px;">0.505</div>
<div class="t " style="left:1006.20px;top:876.00px;width:240px;">0.211</div>
<div class="t " style="left:1094.50px;top:876.00px;width:240px;">0.009</div>
<div class="t " style="left:130.50px;top:902.00px;width:240px;">46<span class="us"></span>2587<span class="us"></span>7531</div>
<div class="t " style="left:290.50px;top:902.00px;width:240px;">0.013</div>
<div class="t " style="left:401.00px;top:902.00px;width:240px;">0.080</div>
<div class="t " style="left:499.00px;top:902.00px;width:240px;">0.001</div>
<div class="t " style="left:618.00px;top:902.00px;width:240px;">0.025</div>
<div class="t " style="left:709.00px;top:902.00px;width:240px;">0.275</div>
<div class="t " style="left:797.20px;top:902.00px;width:240px;">0.004</div>
<div class="t " style="left:914.60px;top:902.00px;width:240px;">0.095</div>
<div class="t " style="left:1006.20px;top:902.00px;width:240px;">0.447</div>
<div class="t " style="left:1094.50px;top:902.00px;width:240px;">0.009</div>
<div class="t " style="left:130.50px;top:928.00px;width:240px;">106<span class="us"></span>12648<span class="us"></span>23157</div>
<div class="t " style="left:290.50px;top:928.00px;width:240px;">0.009</div>
<div class="t " style="left:401.00px;top:928.00px;width:240px;">0.076</div>
<div class="t " style="left:499.00px;top:928.00px;width:240px;">0.001</div>
<div class="t " style="left:618.00px;top:928.00px;width:240px;">0.045</div>
<div class="t " style="left:709.00px;top:928.00px;width:240px;">0.282</div>
<div class="t " style="left:797.20px;top:928.00px;width:240px;">0.014</div>
<div class="t " style="left:914.60px;top:928.00px;width:240px;">0.094</div>
<div class="t " style="left:1006.20px;top:928.00px;width:240px;">0.360</div>
<div class="t " style="left:1094.50px;top:928.00px;width:240px;">0.008</div>
<div class="t " style="left:130.50px;top:954.00px;width:240px;">110<span class="us"></span>13051<span class="us"></span>23361</div>
<div class="t " style="left:290.50px;top:954.00px;width:240px;">0.012</div>
<div class="t " style="left:401.00px;top:954.00px;width:240px;">0.052</div>
<div class="t " style="left:499.00px;top:954.00px;width:240px;">0.001</div>
<div class="t " style="left:618.00px;top:954.00px;width:240px;">0.093</div>
<div class="t " style="left:709.00px;top:954.00px;width:240px;">0.331</div>
<div class="t " style="left:797.20px;top:954.00px;width:240px;">0.020</div>
<div class="t " style="left:914.60px;top:954.00px;width:240px;">0.140</div>
<div class="t " style="left:1006.20px;top:954.00px;width:240px;">0.401</div>
<div class="t " style="left:1094.50px;top:954.00px;width:240px;">0.021</div>
<div class="t " style="left:130.50px;top:980.00px;width:240px;">245<span class="us"></span>26182<span class="us"></span>52130</div>
<div class="t " style="left:290.50px;top:980.00px;width:240px;">0.005</div>
<div class="t " style="left:401.00px;top:980.00px;width:240px;">0.029</div>
<div class="t " style="left:499.00px;top:980.00px;width:240px;">0.001</div>
<div class="t " style="left:618.00px;top:980.00px;width:240px;">0.064</div>
<div class="t " style="left:709.00px;top:980.00px;width:240px;">0.438</div>
<div class="t " style="left:797.20px;top:980.00px;width:240px;">0.017</div>
<div class="t " style="left:914.60px;top:980.00px;width:240px;">0.239</div>
<div class="t " style="left:1006.20px;top:980.00px;width:240px;">0.472</div>
<div class="t " style="left:1094.50px;top:980.00px;width:240px;">0.017</div>
<div class="t " style="left:130.50px;top:1006.00px;width:240px;">407<span class="us"></span>54965<span class="us"></span>106262</div>
<div class="t " style="left:290.50px;top:1006.00px;width:240px;">0.062</div>
<div class="t " style="left:401.00px;top:1006.00px;width:240px;">0.461</div>
<div class="t " style="left:499.00px;top:1006.00px;width:240px;">0.011</div>
<div class="t " style="left:618.00px;top:1006.00px;width:240px;">0.122</div>
<div class="t " style="left:709.00px;top:1006.00px;width:240px;">0.566</div>
<div class="t " style="left:797.20px;top:1006.00px;width:240px;">0.018</div>
<div class="t " style="left:914.60px;top:1006.00px;width:240px;">0.310</div>
<div class="t " style="left:1006.20px;top:1006.00px;width:240px;">0.243</div>
<div class="t " style="left:1094.50px;top:1006.00px;width:240px;">0.008</div>
<div class="t " style="left:130.50px;top:1032.00px;width:240px;">415<span class="us"></span>57112<span class="us"></span>110099</div>
<div class="t " style="left:290.50px;top:1032.00px;width:240px;">0.004</div>
<div class="t " style="left:401.00px;top:1032.00px;width:240px;">0.024</div>
<div class="t " style="left:499.00px;top:1032.00px;width:240px;">0.001</div>
<div class="t " style="left:618.00px;top:1032.00px;width:240px;">0.049</div>
<div class="t " style="left:709.00px;top:1032.00px;width:240px;">0.351</div>
<div class="t " style="left:797.20px;top:1032.00px;width:240px;">0.024</div>
<div class="t " style="left:914.60px;top:1032.00px;width:240px;">0.110</div>
<div class="t " style="left:1006.20px;top:1032.00px;width:240px;">0.424</div>
<div class="t " style="left:1094.50px;top:1032.00px;width:240px;">0.014</div>
<div class="t " style="left:130.50px;top:1058.00px;width:240px;">429<span class="us"></span>60388<span class="us"></span>117059</div>
<div class="t " style="left:290.50px;top:1058.00px;width:240px;">0.052</div>
<div class="t " style="left:401.00px;top:1058.00px;width:240px;">0.454</div>
<div class="t " style="left:499.00px;top:1058.00px;width:240px;">0.009</div>
<div class="t " style="left:618.00px;top:1058.00px;width:240px;">0.081</div>
<div class="t " style="left:709.00px;top:1058.00px;width:240px;">0.412</div>
<div class="t " style="left:797.20px;top:1058.00px;width:240px;">0.027</div>
<div class="t " style="left:914.60px;top:1058.00px;width:240px;">0.134</div>
<div class="t " style="left:1006.20px;top:1058.00px;width:240px;">0.542</div>
<div class="t " style="left:1094.50px;top:1058.00px;width:240px;">0.018</div>
<div class="t " style="left:130.50px;top:1084.00px;width:240px;">mean</div>
<div class="t " style="left:290.50px;top:1084.00px;width:240px;">0.032</div>
<div class="t " style="left:401.00px;top:1084.00px;width:240px;">0.222</div>
<div class="t " style="left:499.00px;top:1084.00px;width:240px;">0.004</div>
<div class="t " style="left:618.00px;top:1084.00px;width:240px;">0.053</div>
<div class="t " style="left:709.00px;top:1084.00px;width:240px;">0.308</div>
<div class="t " style="left:797.20px;top:1084.00px;width:240px;">0.017</div>
<div class="t " style="left:914.60px;top:1084.00px;width:240px;">0.203</div>
<div class="t " style="left:1006.20px;top:1084.00px;width:240px;">0.388</div>
<div class="t " style="left:1094.50px;top:1084.00px;width:240px;">0.013</div>
<div class="rot" style="left:116.00px;top:758.20px">Tanks and Temples</div>
<div class="rot" style="left:119.00px;top:992.80px">CO3D-V2</div>
</body></html>
